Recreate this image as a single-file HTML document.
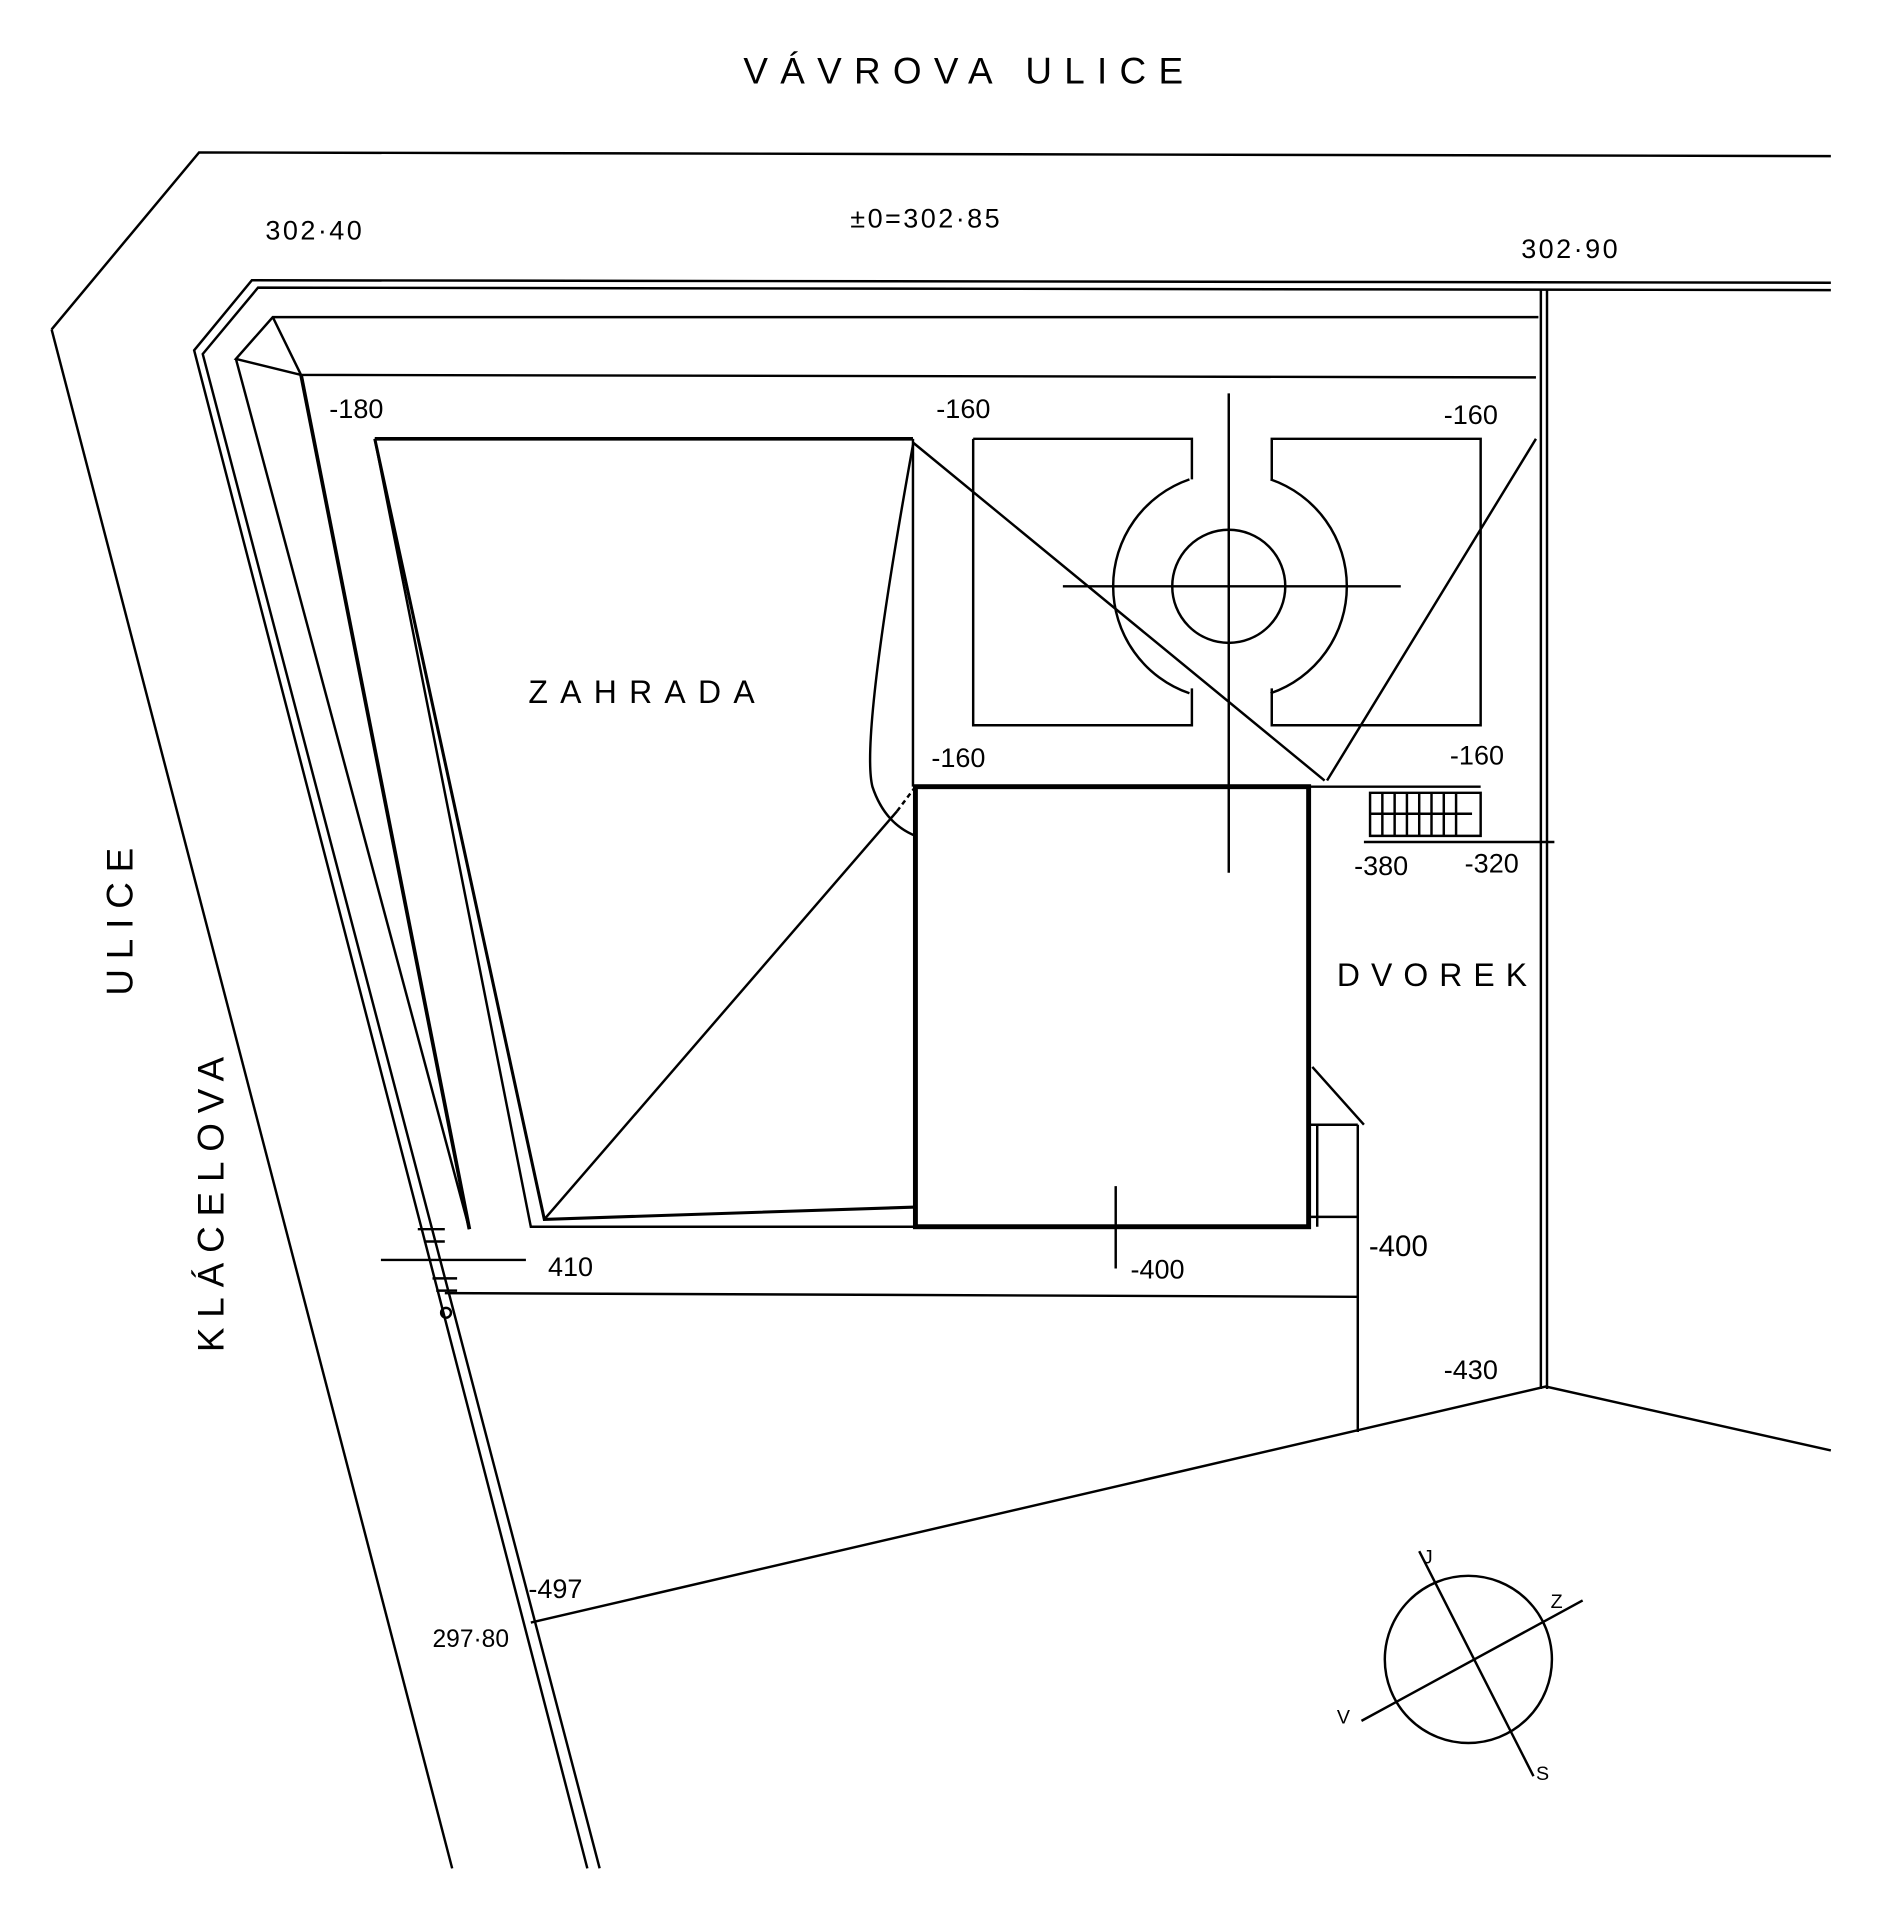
<!DOCTYPE html>
<html><head><meta charset="utf-8"><style>html,body{margin:0;background:#fff}svg{display:block}text{font-family:"Liberation Sans",sans-serif;fill:#000}</style></head><body>
<svg width="1880" height="1920" viewBox="0 0 1530 1562" preserveAspectRatio="none" xmlns="http://www.w3.org/2000/svg">
<g stroke="#000" fill="none" stroke-width="2">
<path d="M42,268 L162,124 L1490,127"/>
<path d="M42,268 L368,1520"/>
<path d="M1490,230 L205,228 L158,285 L478,1520"/>
<path d="M1490,236 L210,234 L165,288 L488,1520"/>
<path d="M1254,236 V1130 M1259,236 V1130"/>
<path d="M1252,258 L222,258 L192,292 L245,305 L1250,307 M222,258 L245,305"/>
<path d="M192,292 L382,1000"/>
<path d="M245,305 L382,1000" stroke-width="3"/>
<path d="M305,357 L743,357" stroke-width="3"/>
<path d="M305,357 L443,992 L745,982" stroke-width="2.5"/>
<path d="M305,357 L432,998 L745,998"/>
<path d="M743,357 V640 M743,360 L1078,635 M1080,635 L1250,357"/>
<path d="M743,362 Q700,600 710,640 Q720,670 745,680"/>
<path d="M443,992 L730,660" />
<path d="M730,660 L745,640" stroke-dasharray="4,3"/>
<rect x="745" y="640" width="320" height="358" stroke-width="4"/>
<path d="M1065,640 H1205 M1110,685 H1265"/>
<path d="M1115,645 H1205 V680 H1115 Z M1125,645 V680 M1135,645 V680 M1145,645 V680 M1155,645 V680 M1165,645 V680 M1175,645 V680 M1185,645 V680 M1115,662 H1198"/>
<path d="M1068,868 L1110,915 M1065,915 H1105 M1072,915 V998 M1065,990 H1105"/>
<path d="M1105,915 V1165 M362,1052 L1105,1055 M310,1025 H428"/>
<path d="M340,1000 H362 M345,1010 H362 M352,1040 H372 M355,1050 H372"/>
<circle cx="363" cy="1068" r="4"/>
<path d="M908,965 V1032"/>
<path d="M432,1320 L1258,1128 L1490,1180"/>
<path d="M792,357 H970 V390 M792,357 V590 H970 V560"/>
<path d="M1035,390 V357 H1205 V590 H1035 V560"/>
<circle cx="1000" cy="477" r="46"/>
<path d="M968,390 A92,92 0 0 0 968,564 M1034,390 A92,92 0 0 1 1034,564"/>
<path d="M1000,320 V710 M865,477 H1140"/>
<circle cx="1195" cy="1350" r="68"/>
<path d="M1155,1262 L1248,1445 M1108,1400 L1288,1302"/>
</g>
<g font-size="30">
<text x="605" y="68" letter-spacing="10">VÁVROVA ULICE</text>
<text x="216" y="195" font-size="22" letter-spacing="2">302·40</text>
<text x="692" y="185" font-size="22" letter-spacing="2">±0=302·85</text>
<text x="1238" y="210" font-size="22" letter-spacing="2">302·90</text>
<text x="268" y="340" font-size="22">-180</text>
<text x="762" y="340" font-size="22">-160</text>
<text x="1175" y="345" font-size="22">-160</text>
<text x="758" y="624" font-size="22">-160</text>
<text x="1180" y="622" font-size="22">-160</text>
<text x="430" y="572" font-size="26" letter-spacing="10">ZAHRADA</text>
<text x="1088" y="802" font-size="26" letter-spacing="9">DVOREK</text>
<text x="1102" y="712" font-size="22">-380</text>
<text x="1192" y="710" font-size="22">-320</text>
<text x="446" y="1038" font-size="22">410</text>
<text x="920" y="1040" font-size="22">-400</text>
<text x="1114" y="1022" font-size="24">-400</text>
<text x="1175" y="1122" font-size="22">-430</text>
<text x="430" y="1300" font-size="22">-497</text>
<text x="352" y="1340" font-size="20">297·80</text>
<text x="1158" y="1272" font-size="16">J</text>
<text x="1262" y="1308" font-size="16">Z</text>
<text x="1088" y="1402" font-size="16">V</text>
<text x="1250" y="1448" font-size="16">S</text>
<text transform="translate(182,1100) rotate(-90)" font-size="30" letter-spacing="8">KLÁCELOVA</text>
<text transform="translate(108,810) rotate(-90)" font-size="30" letter-spacing="8">ULICE</text>
</g>
</svg>
</body></html>
